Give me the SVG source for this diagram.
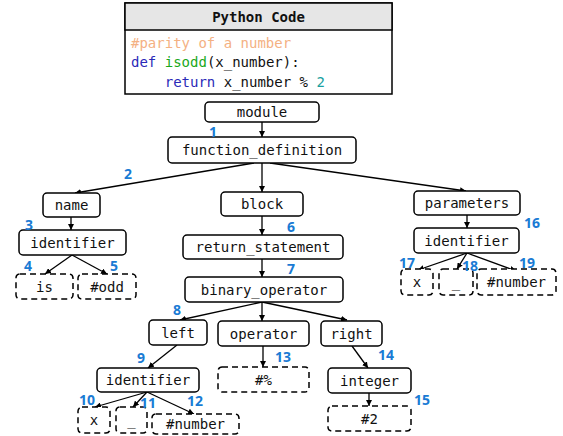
<svg xmlns="http://www.w3.org/2000/svg" width="563" height="436" viewBox="0 0 563 436">
<defs>
<marker id="ah" viewBox="0 0 8 8" refX="8" refY="4" markerWidth="6" markerHeight="6" orient="auto" markerUnits="userSpaceOnUse">
<path d="M0,0 L8,4 L0,8 z" fill="#000"/>
</marker>
<style>
.n{fill:#fff;stroke:#000;stroke-width:1.5}
.d{fill:#fff;stroke:#000;stroke-width:1.5;stroke-dasharray:6,4}
.t{font-family:"DejaVu Sans Mono","Liberation Mono",monospace;font-size:14px;fill:#111;text-anchor:middle;dominant-baseline:central}
.c{font-family:"DejaVu Sans Mono","Liberation Mono",monospace;font-size:14px;dominant-baseline:central}
.l{font-family:"Noto Sans","Liberation Sans",sans-serif;font-size:14px;font-weight:bold;fill:#1a7bd4;text-anchor:middle;dominant-baseline:central}
.e{stroke:#000;stroke-width:1.3;fill:none;marker-end:url(#ah)}
</style>
</defs>
<rect width="563" height="436" fill="#fff"/>
<g id="code">
<rect x="125" y="3" width="267" height="91" fill="#fff" stroke="#000" stroke-width="1.5"/>
<rect x="125" y="3" width="267" height="27" fill="#e6e6e6" stroke="#000" stroke-width="1.5"/>
<text class="t" x="258.5" y="17" font-weight="bold">Python Code</text>
<text class="c" x="131" y="43" fill="#f4b183">#parity of a number</text>
<text class="c" x="131" y="62"><tspan fill="#2a2ab8">def</tspan><tspan fill="#111"> </tspan><tspan fill="#1aa81a">isodd</tspan><tspan fill="#111">(x_number):</tspan></text>
<text class="c" x="131" y="82" xml:space="preserve"><tspan fill="#111">    </tspan><tspan fill="#2a2ab8">return</tspan><tspan fill="#111"> x_number % </tspan><tspan fill="#1aa0a0">2</tspan></text>
</g>
<g id="connectors">
<line class="e" x1="262" y1="122" x2="262" y2="137"/>
<line class="e" x1="254" y1="163" x2="75" y2="193"/>
<line class="e" x1="262" y1="163" x2="262" y2="192"/>
<line class="e" x1="270" y1="163" x2="466" y2="191"/>
<line class="e" x1="71" y1="217" x2="71" y2="230"/>
<line class="e" x1="72" y1="255" x2="45" y2="274"/>
<line class="e" x1="72" y1="255" x2="107" y2="274"/>
<line class="e" x1="262" y1="216" x2="262" y2="235"/>
<line class="e" x1="262" y1="259" x2="262" y2="277"/>
<line class="e" x1="262" y1="302" x2="180" y2="320"/>
<line class="e" x1="262" y1="302" x2="262" y2="321"/>
<line class="e" x1="262" y1="302" x2="347" y2="320"/>
<line class="e" x1="177" y1="345" x2="148" y2="368"/>
<line class="e" x1="147" y1="392" x2="95" y2="407"/>
<line class="e" x1="147" y1="392" x2="133" y2="407"/>
<line class="e" x1="147" y1="392" x2="194" y2="414"/>
<line class="e" x1="263" y1="346" x2="263" y2="367"/>
<line class="e" x1="352" y1="346" x2="368" y2="368"/>
<line class="e" x1="369" y1="393" x2="369" y2="406"/>
<line class="e" x1="467" y1="215" x2="467" y2="228"/>
<line class="e" x1="467" y1="253" x2="418" y2="270"/>
<line class="e" x1="467" y1="253" x2="457" y2="269"/>
<line class="e" x1="467" y1="253" x2="516" y2="271"/>
</g>
<g id="module"><rect class="n" x="205" y="102" width="114" height="20" rx="4"/><text class="t" x="262" y="112">module</text></g>
<g id="function_definition"><rect class="n" x="168" y="137" width="188" height="26" rx="4"/><text class="t" x="262" y="150">function_definition</text></g>
<g id="name"><rect class="n" x="43" y="193" width="57" height="24" rx="4"/><text class="t" x="71.5" y="205">name</text></g>
<g id="block"><rect class="n" x="221" y="192" width="82" height="24" rx="4"/><text class="t" x="262" y="204">block</text></g>
<g id="parameters"><rect class="n" x="414" y="191" width="106" height="24" rx="4"/><text class="t" x="467" y="203">parameters</text></g>
<g id="identifier_name"><rect class="n" x="19" y="230" width="107" height="25" rx="4"/><text class="t" x="72.5" y="242.5">identifier</text></g>
<g id="is"><rect class="d" x="16" y="274" width="57" height="25" rx="4"/><text class="t" x="44.5" y="286.5">is</text></g>
<g id="odd"><rect class="d" x="78" y="274" width="58" height="25" rx="4"/><text class="t" x="107" y="286.5">#odd</text></g>
<g id="return_statement"><rect class="n" x="183" y="235" width="160" height="24" rx="4"/><text class="t" x="263" y="247">return_statement</text></g>
<g id="binary_operator"><rect class="n" x="185" y="277" width="158" height="25" rx="4"/><text class="t" x="264" y="289.5">binary_operator</text></g>
<g id="left"><rect class="n" x="149" y="320" width="58" height="25" rx="4"/><text class="t" x="178" y="332.5">left</text></g>
<g id="operator"><rect class="n" x="218" y="321" width="91" height="25" rx="4"/><text class="t" x="263.5" y="333.5">operator</text></g>
<g id="right"><rect class="n" x="321" y="321" width="61" height="25" rx="4"/><text class="t" x="351.5" y="333.5">right</text></g>
<g id="identifier_left"><rect class="n" x="97" y="368" width="102" height="24" rx="4"/><text class="t" x="148" y="380">identifier</text></g>
<g id="x_left"><rect class="d" x="78" y="407" width="32" height="26" rx="4"/><text class="t" x="94" y="420">x</text></g>
<g id="us_left"><rect class="d" x="116" y="407" width="31" height="26" rx="4"/><text class="t" x="131.5" y="420">_</text></g>
<g id="number_left"><rect class="d" x="152" y="414" width="87" height="20" rx="4"/><text class="t" x="195.5" y="424">#number</text></g>
<g id="pct"><rect class="d" x="218" y="367" width="91" height="25" rx="4"/><text class="t" x="263.5" y="379.5">#%</text></g>
<g id="integer"><rect class="n" x="328" y="368" width="83" height="25" rx="4"/><text class="t" x="369.5" y="380.5">integer</text></g>
<g id="two"><rect class="d" x="328" y="406" width="83" height="25" rx="4"/><text class="t" x="369.5" y="418.5">#2</text></g>
<g id="identifier_params"><rect class="n" x="414" y="228" width="105" height="25" rx="4"/><text class="t" x="466.5" y="240.5">identifier</text></g>
<g id="x_params"><rect class="d" x="401" y="269" width="32" height="26" rx="4"/><text class="t" x="417" y="282">x</text></g>
<g id="us_params"><rect class="d" x="439" y="269" width="34" height="26" rx="4"/><text class="t" x="456" y="282">_</text></g>
<g id="number_params"><rect class="d" x="477" y="269" width="79" height="26" rx="4"/><text class="t" x="516.5" y="282">#number</text></g>
<g id="labels">
<text class="l" x="213" y="131">1</text>
<text class="l" x="128" y="173">2</text>
<text class="l" x="29" y="224">3</text>
<text class="l" x="28" y="265">4</text>
<text class="l" x="114" y="265">5</text>
<text class="l" x="291" y="226">6</text>
<text class="l" x="291" y="268">7</text>
<text class="l" x="177" y="309">8</text>
<text class="l" x="141" y="357">9</text>
<text class="l" x="87" y="399">10</text>
<text class="l" x="148" y="402">11</text>
<text class="l" x="195" y="400">12</text>
<text class="l" x="283" y="356">13</text>
<text class="l" x="386" y="354">14</text>
<text class="l" x="422" y="399">15</text>
<text class="l" x="532" y="222">16</text>
<text class="l" x="407" y="262">17</text>
<text class="l" x="470" y="265">18</text>
<text class="l" x="527" y="262">19</text>
</g>
</svg>
